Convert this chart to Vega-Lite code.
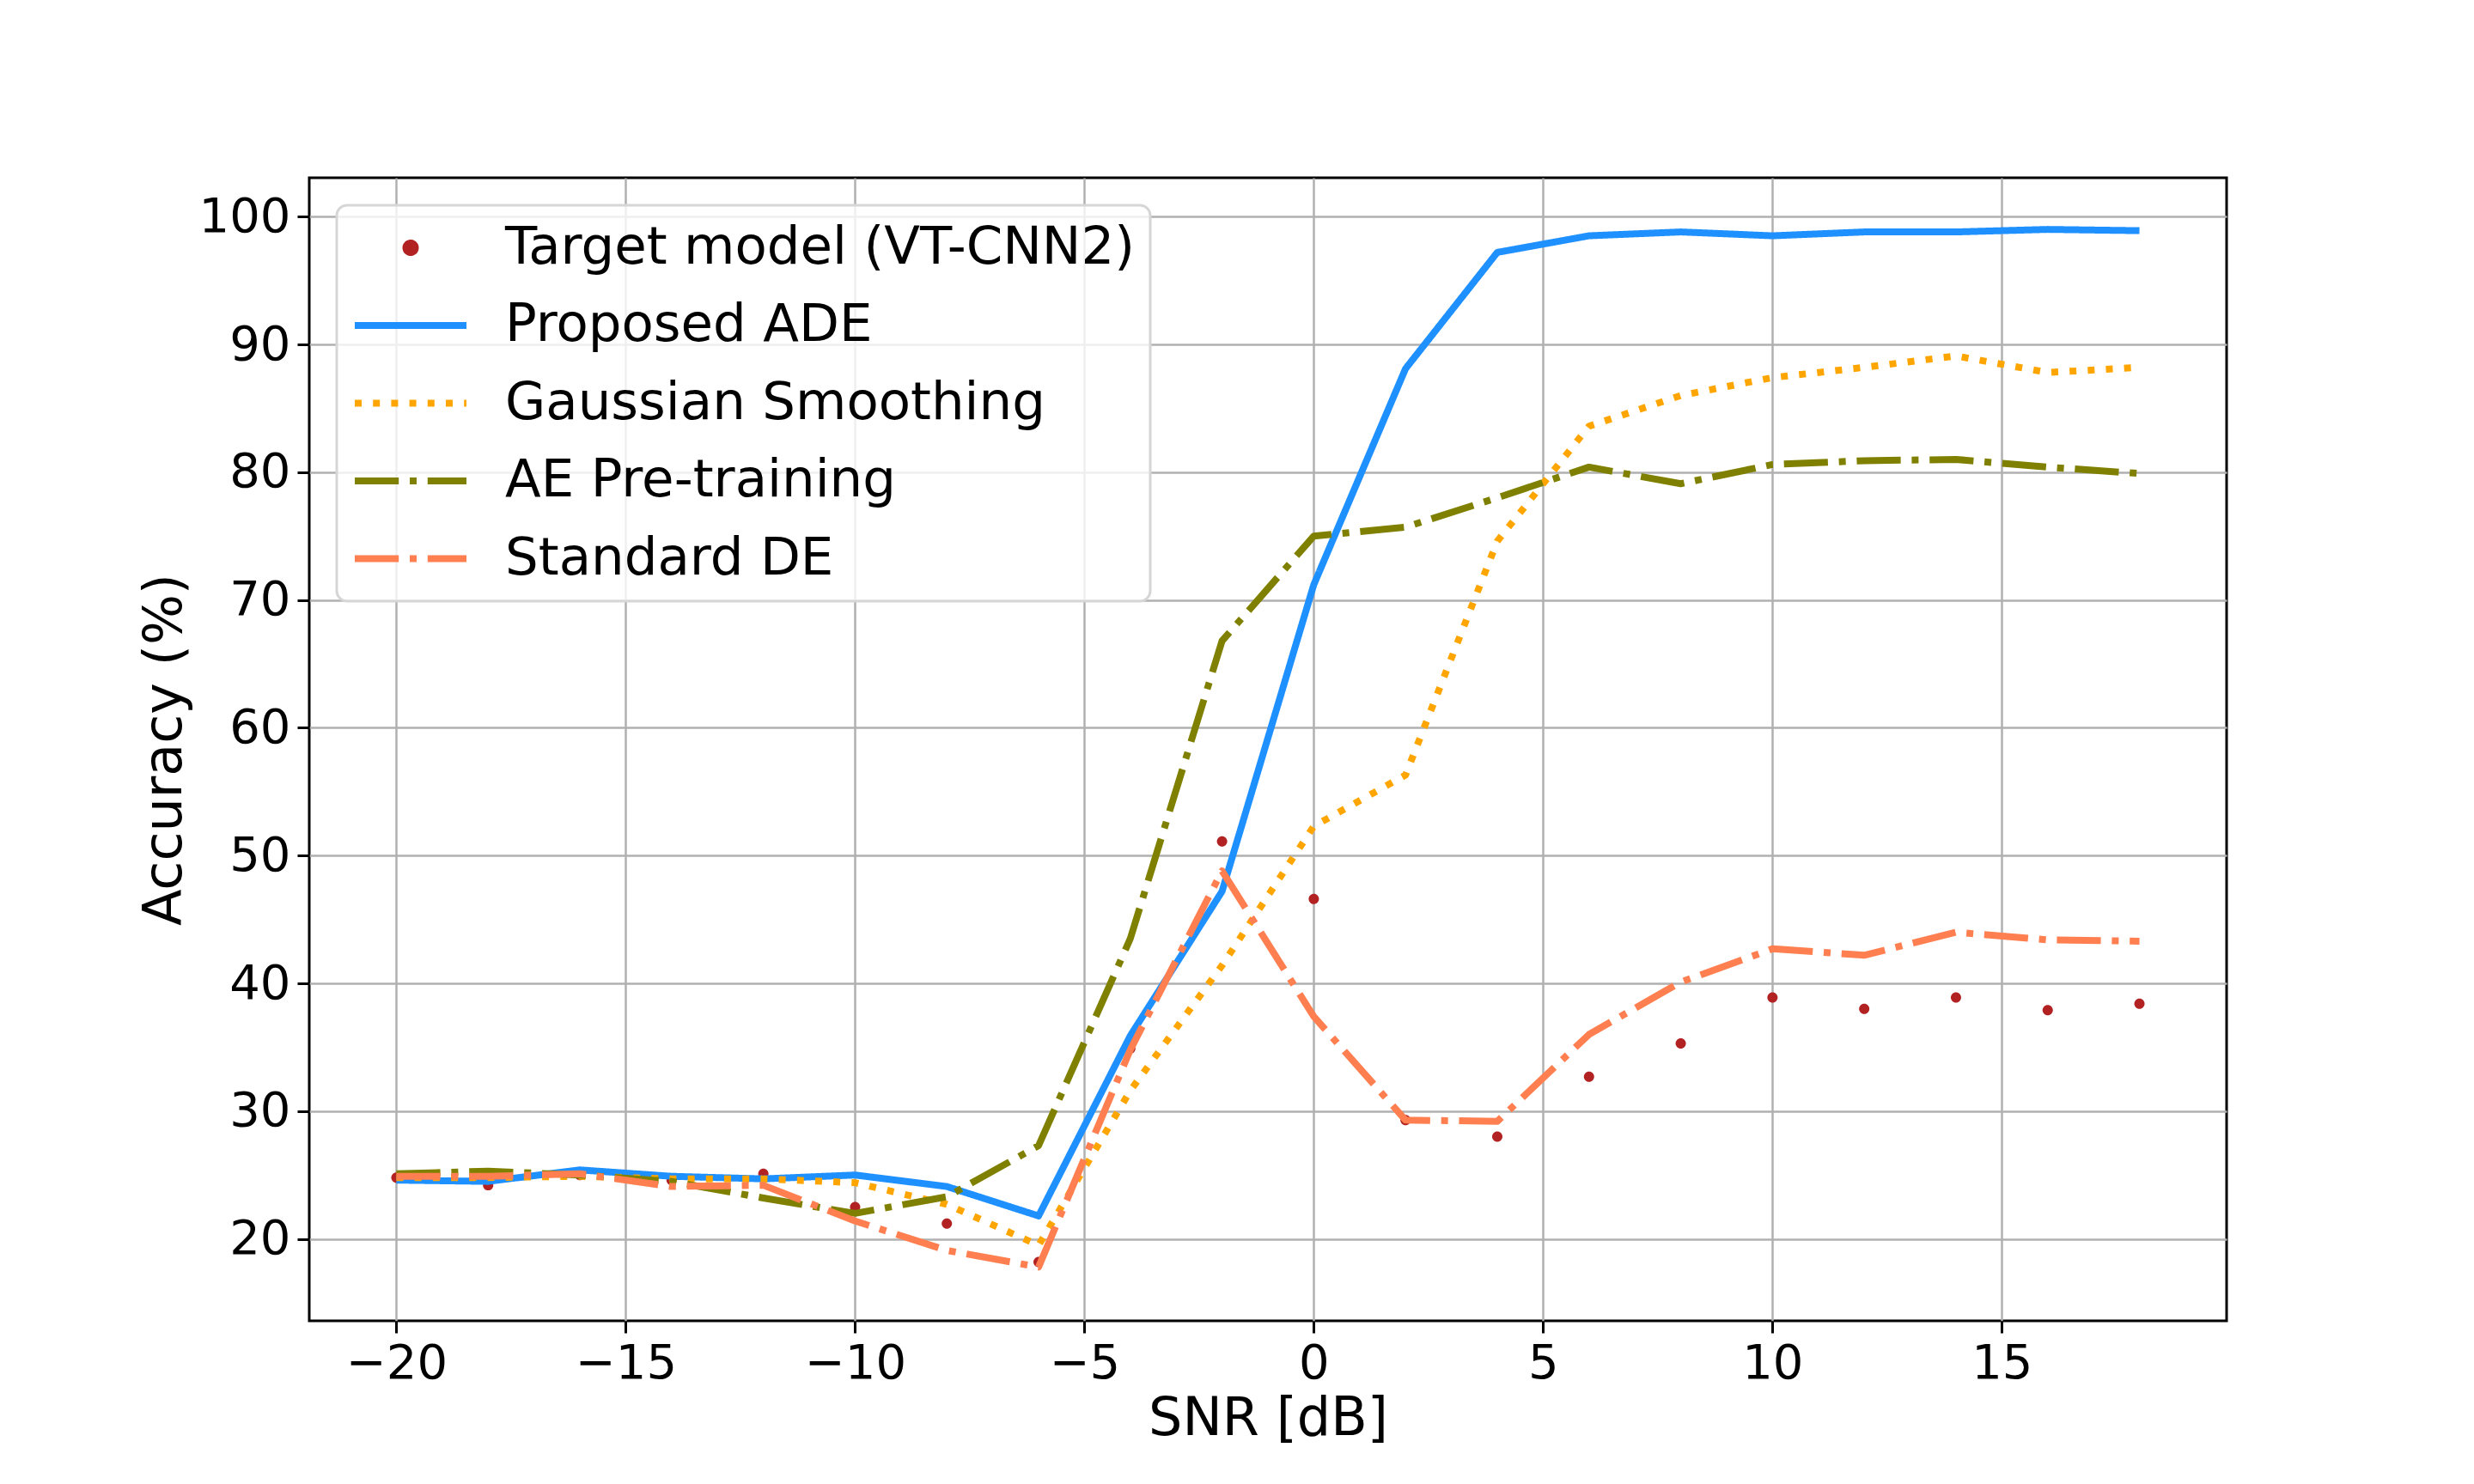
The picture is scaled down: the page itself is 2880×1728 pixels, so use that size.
{
  "$schema": "https://vega.github.io/schema/vega-lite/v6.json",
  "width": 2232,
  "height": 1331,
  "autosize": {"type": "none"},
  "padding": {"left": 360, "top": 207, "right": 288, "bottom": 190},
  "background": "white",
  "config": {
    "view": {"stroke": "black", "strokeWidth": 3},
    "font": "DejaVu Sans",
    "axis": {
      "domain": false,
      "grid": true,
      "gridColor": "#b0b0b0",
      "gridWidth": 2.5,
      "ticks": true,
      "tickColor": "black",
      "tickWidth": 3,
      "tickSize": 14,
      "labelFont": "DejaVu Sans",
      "labelFontSize": 56,
      "labelColor": "black",
      "labelPadding": 8,
      "labelFlush": false,
      "labelOverlap": false,
      "titleFont": "DejaVu Sans",
      "titleFontSize": 62,
      "titleFontWeight": "normal",
      "titleColor": "black"
    },
    "legend": {
      "orient": "top-left",
      "offset": 32,
      "labelFont": "DejaVu Sans",
      "labelFontSize": 61,
      "labelColor": "black",
      "labelLimit": 3000,
      "labelOffset": 41,
      "symbolSize": 16900,
      "symbolStrokeWidth": 8,
      "symbolOpacity": 1,
      "clipHeight": 65,
      "rowPadding": 25.5,
      "padding": 17,
      "cornerRadius": 12,
      "strokeColor": "#d6d6d6",
      "strokeWidth": 3,
      "fillColor": "rgba(255,255,255,0.8)"
    }
  },
  "data": {
    "values": [
      {"snr": -20, "acc": 24.8, "series": "Target model (VT-CNN2)"},
      {"snr": -18, "acc": 24.2, "series": "Target model (VT-CNN2)"},
      {"snr": -16, "acc": 25.0, "series": "Target model (VT-CNN2)"},
      {"snr": -14, "acc": 24.6, "series": "Target model (VT-CNN2)"},
      {"snr": -12, "acc": 25.1, "series": "Target model (VT-CNN2)"},
      {"snr": -10, "acc": 22.5, "series": "Target model (VT-CNN2)"},
      {"snr": -8, "acc": 21.2, "series": "Target model (VT-CNN2)"},
      {"snr": -6, "acc": 18.2, "series": "Target model (VT-CNN2)"},
      {"snr": -4, "acc": 34.9, "series": "Target model (VT-CNN2)"},
      {"snr": -2, "acc": 51.1, "series": "Target model (VT-CNN2)"},
      {"snr": 0, "acc": 46.6, "series": "Target model (VT-CNN2)"},
      {"snr": 2, "acc": 29.3, "series": "Target model (VT-CNN2)"},
      {"snr": 4, "acc": 28.0, "series": "Target model (VT-CNN2)"},
      {"snr": 6, "acc": 32.7, "series": "Target model (VT-CNN2)"},
      {"snr": 8, "acc": 35.3, "series": "Target model (VT-CNN2)"},
      {"snr": 10, "acc": 38.9, "series": "Target model (VT-CNN2)"},
      {"snr": 12, "acc": 38.0, "series": "Target model (VT-CNN2)"},
      {"snr": 14, "acc": 38.9, "series": "Target model (VT-CNN2)"},
      {"snr": 16, "acc": 37.9, "series": "Target model (VT-CNN2)"},
      {"snr": 18, "acc": 38.4, "series": "Target model (VT-CNN2)"},

      {"snr": -20, "acc": 24.6, "series": "Proposed ADE"},
      {"snr": -18, "acc": 24.5, "series": "Proposed ADE"},
      {"snr": -16, "acc": 25.4, "series": "Proposed ADE"},
      {"snr": -14, "acc": 24.9, "series": "Proposed ADE"},
      {"snr": -12, "acc": 24.7, "series": "Proposed ADE"},
      {"snr": -10, "acc": 25.0, "series": "Proposed ADE"},
      {"snr": -8, "acc": 24.1, "series": "Proposed ADE"},
      {"snr": -6, "acc": 21.8, "series": "Proposed ADE"},
      {"snr": -4, "acc": 35.9, "series": "Proposed ADE"},
      {"snr": -2, "acc": 47.2, "series": "Proposed ADE"},
      {"snr": 0, "acc": 71.2, "series": "Proposed ADE"},
      {"snr": 2, "acc": 88.1, "series": "Proposed ADE"},
      {"snr": 4, "acc": 97.2, "series": "Proposed ADE"},
      {"snr": 6, "acc": 98.5, "series": "Proposed ADE"},
      {"snr": 8, "acc": 98.8, "series": "Proposed ADE"},
      {"snr": 10, "acc": 98.5, "series": "Proposed ADE"},
      {"snr": 12, "acc": 98.8, "series": "Proposed ADE"},
      {"snr": 14, "acc": 98.8, "series": "Proposed ADE"},
      {"snr": 16, "acc": 99.0, "series": "Proposed ADE"},
      {"snr": 18, "acc": 98.9, "series": "Proposed ADE"},

      {"snr": -20, "acc": 24.8, "series": "Gaussian Smoothing"},
      {"snr": -18, "acc": 24.8, "series": "Gaussian Smoothing"},
      {"snr": -16, "acc": 24.9, "series": "Gaussian Smoothing"},
      {"snr": -14, "acc": 24.7, "series": "Gaussian Smoothing"},
      {"snr": -12, "acc": 24.7, "series": "Gaussian Smoothing"},
      {"snr": -10, "acc": 24.4, "series": "Gaussian Smoothing"},
      {"snr": -8, "acc": 22.7, "series": "Gaussian Smoothing"},
      {"snr": -6, "acc": 19.5, "series": "Gaussian Smoothing"},
      {"snr": -4, "acc": 31.6, "series": "Gaussian Smoothing"},
      {"snr": -2, "acc": 41.4, "series": "Gaussian Smoothing"},
      {"snr": 0, "acc": 52.3, "series": "Gaussian Smoothing"},
      {"snr": 2, "acc": 56.3, "series": "Gaussian Smoothing"},
      {"snr": 4, "acc": 74.6, "series": "Gaussian Smoothing"},
      {"snr": 6, "acc": 83.6, "series": "Gaussian Smoothing"},
      {"snr": 8, "acc": 86.0, "series": "Gaussian Smoothing"},
      {"snr": 10, "acc": 87.4, "series": "Gaussian Smoothing"},
      {"snr": 12, "acc": 88.2, "series": "Gaussian Smoothing"},
      {"snr": 14, "acc": 89.1, "series": "Gaussian Smoothing"},
      {"snr": 16, "acc": 87.8, "series": "Gaussian Smoothing"},
      {"snr": 18, "acc": 88.2, "series": "Gaussian Smoothing"},

      {"snr": -20, "acc": 25.1, "series": "AE Pre-training"},
      {"snr": -18, "acc": 25.3, "series": "AE Pre-training"},
      {"snr": -16, "acc": 25.0, "series": "AE Pre-training"},
      {"snr": -14, "acc": 24.5, "series": "AE Pre-training"},
      {"snr": -12, "acc": 23.2, "series": "AE Pre-training"},
      {"snr": -10, "acc": 22.0, "series": "AE Pre-training"},
      {"snr": -8, "acc": 23.3, "series": "AE Pre-training"},
      {"snr": -6, "acc": 27.3, "series": "AE Pre-training"},
      {"snr": -4, "acc": 43.5, "series": "AE Pre-training"},
      {"snr": -2, "acc": 66.8, "series": "AE Pre-training"},
      {"snr": 0, "acc": 75.0, "series": "AE Pre-training"},
      {"snr": 2, "acc": 75.7, "series": "AE Pre-training"},
      {"snr": 4, "acc": 78.0, "series": "AE Pre-training"},
      {"snr": 6, "acc": 80.4, "series": "AE Pre-training"},
      {"snr": 8, "acc": 79.1, "series": "AE Pre-training"},
      {"snr": 10, "acc": 80.6, "series": "AE Pre-training"},
      {"snr": 12, "acc": 80.9, "series": "AE Pre-training"},
      {"snr": 14, "acc": 81.0, "series": "AE Pre-training"},
      {"snr": 16, "acc": 80.4, "series": "AE Pre-training"},
      {"snr": 18, "acc": 79.9, "series": "AE Pre-training"},

      {"snr": -20, "acc": 24.9, "series": "Standard DE"},
      {"snr": -18, "acc": 24.9, "series": "Standard DE"},
      {"snr": -16, "acc": 25.1, "series": "Standard DE"},
      {"snr": -14, "acc": 24.1, "series": "Standard DE"},
      {"snr": -12, "acc": 24.2, "series": "Standard DE"},
      {"snr": -10, "acc": 21.4, "series": "Standard DE"},
      {"snr": -8, "acc": 19.1, "series": "Standard DE"},
      {"snr": -6, "acc": 17.8, "series": "Standard DE"},
      {"snr": -4, "acc": 34.8, "series": "Standard DE"},
      {"snr": -2, "acc": 48.8, "series": "Standard DE"},
      {"snr": 0, "acc": 37.4, "series": "Standard DE"},
      {"snr": 2, "acc": 29.3, "series": "Standard DE"},
      {"snr": 4, "acc": 29.2, "series": "Standard DE"},
      {"snr": 6, "acc": 36.0, "series": "Standard DE"},
      {"snr": 8, "acc": 40.1, "series": "Standard DE"},
      {"snr": 10, "acc": 42.7, "series": "Standard DE"},
      {"snr": 12, "acc": 42.2, "series": "Standard DE"},
      {"snr": 14, "acc": 44.0, "series": "Standard DE"},
      {"snr": 16, "acc": 43.4, "series": "Standard DE"},
      {"snr": 18, "acc": 43.3, "series": "Standard DE"}
    ]
  },
  "encoding": {
    "x": {
      "field": "snr",
      "type": "quantitative",
      "title": "SNR [dB]",
      "scale": {"domain": [-21.9, 19.9], "nice": false, "zero": false},
      "axis": {"values": [-20, -15, -10, -5, 0, 5, 10, 15], "titlePadding": 6}
    },
    "y": {
      "field": "acc",
      "type": "quantitative",
      "title": "Accuracy (%)",
      "scale": {"domain": [13.59, 103.04], "nice": false, "zero": false},
      "axis": {"values": [20, 30, 40, 50, 60, 70, 80, 90, 100], "titlePadding": 8}
    },
    "color": {
      "field": "series",
      "type": "nominal",
      "scale": {
        "domain": ["Target model (VT-CNN2)", "Proposed ADE", "Gaussian Smoothing", "AE Pre-training", "Standard DE"],
        "range": ["#b22222", "#1e90ff", "#ffa500", "#808000", "#ff7f50"]
      },
      "legend": {"title": null}
    }
  },
  "layer": [
    {
      "transform": [{"filter": "datum.series === 'Target model (VT-CNN2)'"}],
      "mark": {"type": "point", "filled": true, "size": 20110, "opacity": 1},
      "encoding": {
        "shape": {
          "field": "series",
          "type": "nominal",
          "scale": {
            "domain": ["Target model (VT-CNN2)", "Proposed ADE", "Gaussian Smoothing", "AE Pre-training", "Standard DE"],
            "range": [
              "M-0.0846,0A0.0846,0.0846,0,1,1,0.0846,0A0.0846,0.0846,0,1,1,-0.0846,0Z",
              "M-1,0H1",
              "M-1,0H1",
              "M-1,0H1",
              "M-1,0H1"
            ]
          },
          "legend": {"title": null}
        }
      }
    },
    {
      "transform": [{"filter": "datum.series !== 'Target model (VT-CNN2)'"}],
      "encoding": {
        "strokeDash": {
          "field": "series",
          "type": "nominal",
          "scale": {
            "domain": ["Target model (VT-CNN2)", "Proposed ADE", "Gaussian Smoothing", "AE Pre-training", "Standard DE"],
            "range": [[1, 0], [1, 0], [8, 13.2], [51.2, 12.8, 8, 12.8], [51.2, 12.8, 8, 12.8]]
          },
          "legend": {"title": null}
        }
      },
      "layer": [
        {
          "transform": [{"filter": "datum.series === 'Proposed ADE'"}],
          "mark": {"type": "line", "strokeWidth": 8, "strokeJoin": "round"}
        },
        {
          "transform": [{"filter": "datum.series === 'Gaussian Smoothing'"}],
          "mark": {"type": "line", "strokeWidth": 8, "strokeJoin": "round", "strokeCap": "butt"}
        },
        {
          "transform": [{"filter": "datum.series === 'AE Pre-training'"}],
          "mark": {"type": "line", "strokeWidth": 8, "strokeJoin": "round", "strokeCap": "butt"}
        },
        {
          "transform": [{"filter": "datum.series === 'Standard DE'"}],
          "mark": {"type": "line", "strokeWidth": 8, "strokeJoin": "round", "strokeCap": "butt"}
        }
      ]
    }
  ]
}
